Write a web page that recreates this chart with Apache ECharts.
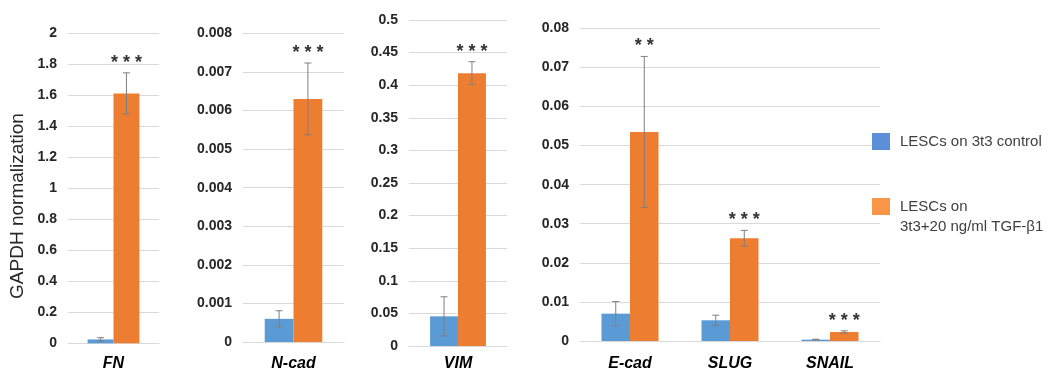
<!DOCTYPE html>
<html>
<head>
<meta charset="utf-8">
<script src="https://cdn.jsdelivr.net/npm/echarts@6/dist/echarts.min.js"></script>
<style>
  html, body { margin: 0; padding: 0; background: #ffffff; }
  #chart { width: 1050px; height: 372px; }
</style>
</head>
<body>
<div id="chart"></div>
<script>
// Gene expression (normalized to GAPDH), mean ± error
const genes        = ['FN', 'N-cad', 'VIM', 'E-cad', 'SLUG', 'SNAIL'];
const panelOfGene  = [0, 1, 2, 3, 3, 3];
const controlMean  = [0.025, 0.0006, 0.0455, 0.0070, 0.0053, 0.00035];
const controlErr   = [0.011, 0.00021, 0.030, 0.0031, 0.0013, 0.0001];
const tgfMean      = [1.612, 0.0063, 0.4185, 0.0535, 0.0263, 0.0023];
const tgfErr       = [0.133, 0.00093, 0.0175, 0.0193, 0.0020, 0.0003];
const significance = ['***', '***', '***', '**', '***', '***'];

const seriesNames = ['LESCs on 3t3 control', 'LESCs on 3t3+20 ng/ml TGF-β1'];
const legendLines = ['LESCs on', '3t3+20 ng/ml TGF-β1'];
const axisTitle = 'GAPDH normalization';

// value-axis range and step for each panel
const yMax  = [2, 0.008, 0.5, 0.08];
const yStep = [0.2, 0.001, 0.05, 0.01];

// ---- layout & style ----
const BLUE = '#5B9BD5';
const ORANGE = '#ED7D31';
const GRID_LINE = '#D9D9D9';
const ERR_COLOR = '#7F7F7F';
const CAT_GAP = 0.43;
const FONT = '"Liberation Sans", Arial, sans-serif';

const gridBoxes = [
  { left: 68,  top: 33.3, width: 91,  height: 310 },
  { left: 243, top: 33.3, width: 101, height: 310 },
  { left: 409, top: 20,   width: 98,  height: 327.3 },
  { left: 580, top: 28.3, width: 300, height: 313.4 }
];
const catLabelMargin = [12, 14, 10, 15];

const panelCount = yMax.length;
const panelGenes = [];
for (let p = 0; p < panelCount; p++) panelGenes.push([]);
genes.forEach((g, i) => panelGenes[panelOfGene[i]].push(i));

function errorBarRenderer(geneIdx, side, withStars) {
  return function (params, api) {
    const cat = api.value(0);
    const mean = api.value(1);
    const err = api.value(2);
    const band = api.size([1, 0])[0];
    const barW = band * (1 - CAT_GAP) / 2;
    const cx = api.coord([cat, mean])[0] + side * barW / 2;
    const yTop = api.coord([cat, mean + err])[1];
    const yBot = api.coord([cat, Math.max(mean - err, 0)])[1];
    const cap = 3.5;
    const ls = { stroke: ERR_COLOR, lineWidth: 1 };
    const children = [
      { type: 'line', shape: { x1: cx, y1: yTop, x2: cx, y2: yBot }, style: ls },
      { type: 'line', shape: { x1: cx - cap, y1: yTop, x2: cx + cap, y2: yTop }, style: ls },
      { type: 'line', shape: { x1: cx - cap, y1: yBot, x2: cx + cap, y2: yBot }, style: ls }
    ];
    if (withStars) {
      const label = significance[geneIdx[params.dataIndex]];
      children.push({
        type: 'text',
        style: {
          x: cx,
          y: yTop - 10,
          text: label.split('').join(' '),
          fill: '#333333',
          font: 'bold 18px ' + FONT,
          align: 'center',
          verticalAlign: 'middle'
        }
      });
    }
    return { type: 'group', children: children };
  };
}

const grid = [], xAxis = [], yAxis = [], series = [];
for (let p = 0; p < panelCount; p++) {
  const idx = panelGenes[p];
  grid.push(Object.assign({ containLabel: false }, gridBoxes[p]));
  xAxis.push({
    type: 'category',
    gridIndex: p,
    data: idx.map(i => genes[i]),
    axisLine: { show: true, lineStyle: { color: GRID_LINE, width: 1 } },
    axisTick: { show: false },
    axisLabel: {
      margin: catLabelMargin[p],
      color: '#000000',
      fontFamily: FONT,
      fontSize: 16,
      fontWeight: 'bold',
      fontStyle: 'italic'
    }
  });
  yAxis.push({
    type: 'value',
    gridIndex: p,
    min: 0,
    max: yMax[p],
    interval: yStep[p],
    axisLine: { show: false },
    axisTick: { show: false },
    splitLine: { show: true, lineStyle: { color: GRID_LINE, width: 1 } },
    axisLabel: {
      margin: 11,
      color: '#262626',
      fontFamily: FONT,
      fontSize: 14,
      fontWeight: 'bold'
    }
  });
  series.push({
    name: seriesNames[0], type: 'bar', xAxisIndex: p, yAxisIndex: p,
    barGap: '0%', barCategoryGap: (CAT_GAP * 100) + '%',
    barMinHeight: 1,
    itemStyle: { color: BLUE },
    data: idx.map(i => controlMean[i]),
    z: 2
  });
  series.push({
    name: seriesNames[1], type: 'bar', xAxisIndex: p, yAxisIndex: p,
    barGap: '0%', barCategoryGap: (CAT_GAP * 100) + '%',
    itemStyle: { color: ORANGE },
    data: idx.map(i => tgfMean[i]),
    z: 2
  });
  series.push({
    type: 'custom', xAxisIndex: p, yAxisIndex: p, z: 5,
    renderItem: errorBarRenderer(idx, -1, false),
    data: idx.map((i, k) => [k, controlMean[i], controlErr[i]])
  });
  series.push({
    type: 'custom', xAxisIndex: p, yAxisIndex: p, z: 5,
    renderItem: errorBarRenderer(idx, 1, true),
    data: idx.map((i, k) => [k, tgfMean[i], tgfErr[i]])
  });
}

const legendText = {
  color: '#404040',
  fontFamily: FONT,
  fontSize: 15,
  lineHeight: 20,
  padding: [0, 0, 0, 5]
};

const option = {
  backgroundColor: '#ffffff',
  animation: false,
  grid: grid,
  xAxis: xAxis,
  yAxis: yAxis,
  series: series,
  legend: [
    {
      left: 872, top: 131.5, padding: 0, orient: 'vertical',
      itemWidth: 18, itemHeight: 17, selectedMode: false,
      data: [{ name: seriesNames[0], icon: 'rect', itemStyle: { color: '#5B8FD8' } }],
      textStyle: legendText
    },
    {
      left: 872, top: 196.5, padding: 0, orient: 'vertical',
      itemWidth: 18, itemHeight: 17, selectedMode: false,
      data: [{ name: seriesNames[1], icon: 'rect', itemStyle: { color: '#F79646' } }],
      formatter: () => legendLines[0],
      textStyle: legendText
    }
  ],
  graphic: [
    {
      type: 'text',
      x: 18, y: 206,
      rotation: Math.PI / 2,
      style: {
        text: axisTitle,
        fill: '#262626',
        font: '19px ' + FONT,
        align: 'center',
        verticalAlign: 'middle'
      }
    },
    {
      type: 'text',
      x: 900, y: 227,
      style: {
        text: legendLines[1],
        fill: '#404040',
        font: '15px ' + FONT,
        align: 'left',
        verticalAlign: 'middle'
      }
    }
  ]
};

const chart = echarts.init(document.getElementById('chart'), null, { renderer: 'canvas' });
chart.setOption(option);
</script>
</body>
</html>
